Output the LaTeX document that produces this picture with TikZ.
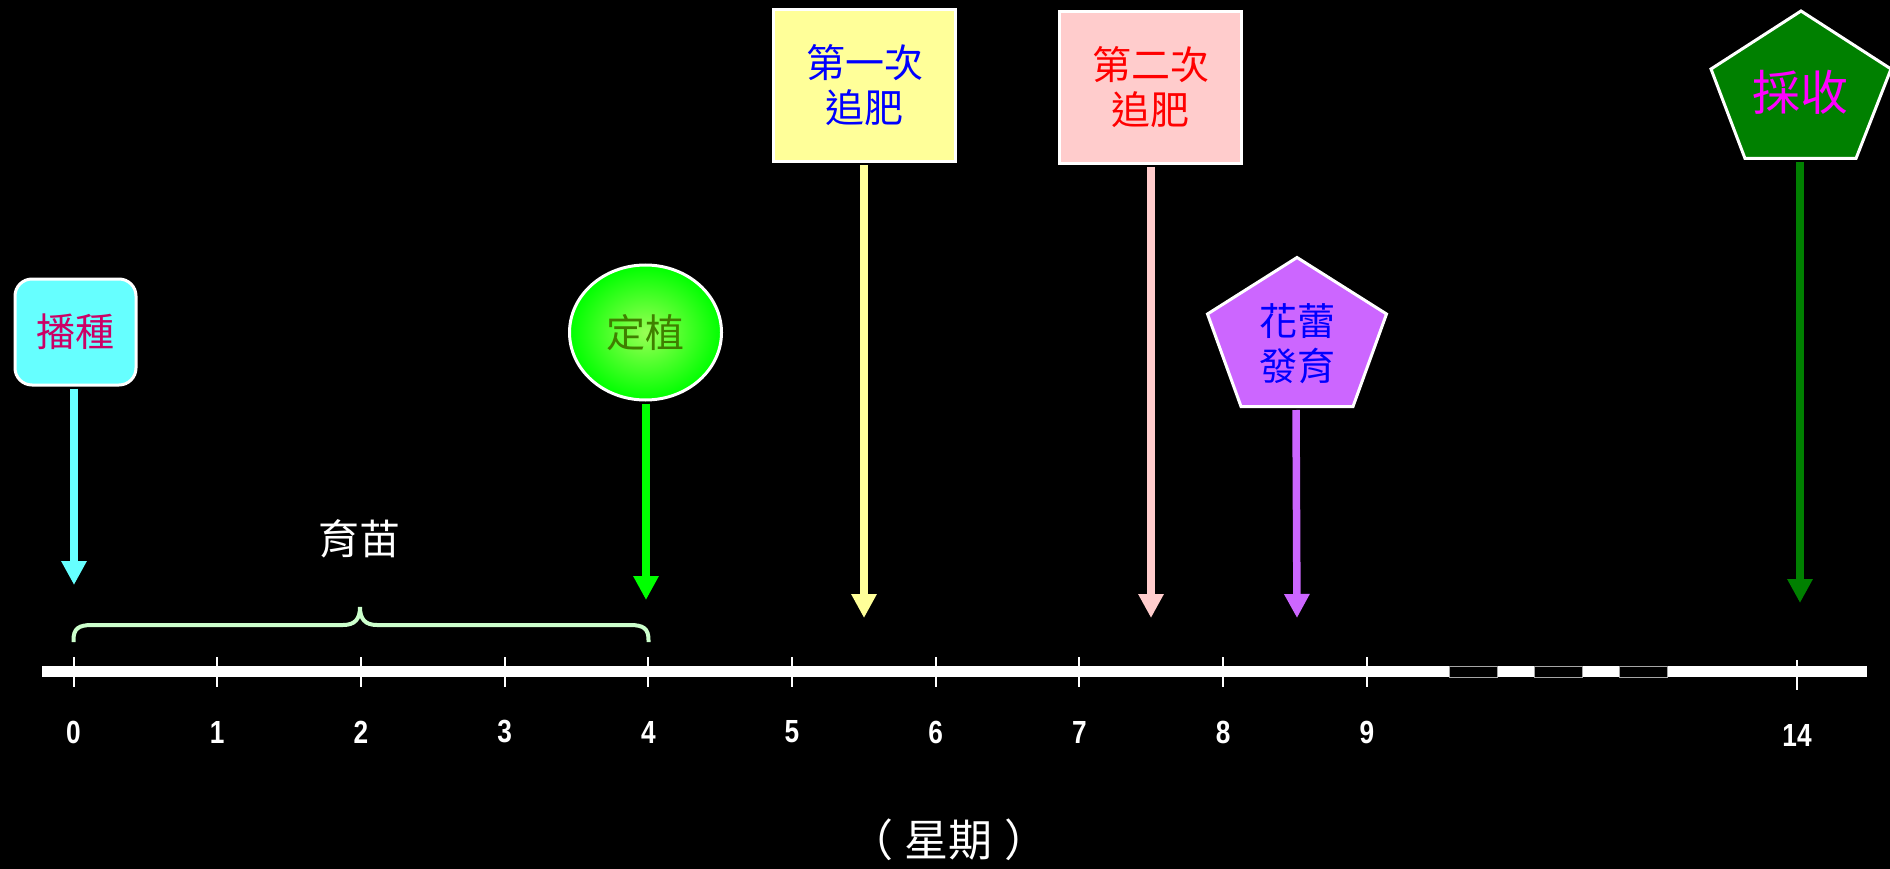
\documentclass[tikz,border=0pt]{standalone}
\usepackage{fontspec}
\setmainfont{Liberation Sans}
\newfontfamily\cjk{Noto Sans CJK TC}
\newfontfamily\narrownum[FakeStretch=0.82]{Liberation Sans Bold}
\usetikzlibrary{arrows.meta,shapes.geometric}
\definecolor{cyanfill}{HTML}{66FFFF}
\definecolor{sowtext}{HTML}{CC0066}
\definecolor{limegreen}{HTML}{00FF00}
\definecolor{limelight}{HTML}{99FF55}
\definecolor{planttext}{HTML}{3F7F00}
\definecolor{yellowfill}{HTML}{FFFF99}
\definecolor{pinkfill}{HTML}{FFCCCC}
\definecolor{purplefill}{HTML}{CC66FF}
\definecolor{darkgreen}{HTML}{008000}
\definecolor{bracegreen}{HTML}{CCFFCC}
\definecolor{puremagenta}{HTML}{FF00FF}
\definecolor{pureblue}{HTML}{0000FF}
\definecolor{purered}{HTML}{FF0000}
\begin{document}
\begin{tikzpicture}[x=1pt,y=-1pt,
  cjktext/.style={font=\cjk\fontsize{39}{45}\selectfont, align=center, inner sep=0pt},
  sign/.style={line width=3pt, draw=white, inner sep=0pt, align=center, font=\cjk\fontsize{39}{45}\selectfont},
  stem/.style={line width=7.5pt, -{Triangle[length=24pt,width=24pt]}, shorten <=2pt},
  numlabel/.style={text=white, font=\narrownum\fontsize{32}{34}\selectfont, inner sep=0pt},
  tickmark/.style={white, line width=2pt},
  gapbox/.style={fill=black, draw=gray!70, line width=0.8pt}]
\fill[black] (0,0) rectangle (1890,869);
\useasboundingbox (0,0) rectangle (1890,869);

% time axis
\fill[white] (42,666) rectangle (1867,677);
\filldraw[gapbox] (1449,666) rectangle (1497,677);
\filldraw[gapbox] (1534,666) rectangle (1582,677);
\filldraw[gapbox] (1619,666) rectangle (1667,677);
\foreach \w in {0,...,9} {
  \draw[tickmark] ({73.5+143.7*\w},657) -- ++(0,30);
  \node[numlabel] (n\w) at ({73.5+143.7*\w},732) {\w};
}
\draw[tickmark] (1797,660) -- ++(0,30);
\node[numlabel] (n14) at (1797,735) {14};

% brace
\coordinate (bl) at (73.5,642);
\coordinate (bm) at (360,607);
\coordinate (br) at (648.5,642);
\draw[bracegreen, line width=4pt]
  (bl) -- (73.5,640) .. controls (73.5,629) and (78,625) .. (92,625) -- (343,625)
  .. controls (355,625) and (360,619) .. (bm)
  .. controls (360,619) and (365,625) .. (377,625) -- (630,625)
  .. controls (644,625) and (648.5,629) .. (648.5,640) -- (br);
\node[cjktext, text=white, font=\cjk\fontsize{41}{45}\selectfont] (seedling) at (359,539) {育苗};
\node[cjktext, text=white, font=\cjk\fontsize{44}{48}\selectfont] (weeks) at (949,840) {（\hspace{12pt}星期\hspace{12pt}）};

% 播種
\node[sign, rounded corners=17pt, fill=cyanfill, text=sowtext,
  minimum width=121pt, minimum height=106pt] (sow) at (75.5,332) {播種};
\coordinate (tip0) at (74,585);
\draw[stem, cyanfill] (sow.south -| tip0) -- (tip0);

% 定植
\node[sign, ellipse, inner color=limelight, outer color=limegreen, text=planttext,
  minimum width=152pt, minimum height=135pt] (plant) at (645.5,332.5) {定植};
\coordinate (tip1) at (646,600);
\draw[stem, limegreen] (plant.south -| tip1) -- (tip1);

% 第一次追肥
\node[sign, fill=yellowfill, text=pureblue,
  minimum width=182pt, minimum height=152pt] (fert1) at (864.5,85.5) {第一次\\追肥};
\coordinate (tip2) at (864,618);
\draw[stem, yellowfill] (fert1.south -| tip2) -- (tip2);

% 第二次追肥
\node[sign, fill=pinkfill, text=purered,
  minimum width=182pt, minimum height=152pt] (fert2) at (1150.5,87.5) {第二次\\追肥};
\coordinate (tip3) at (1151,618);
\draw[stem, pinkfill] (fert2.south -| tip3) -- (tip3);

% 花蕾發育
\filldraw[fill=purplefill, draw=white, line width=3pt]
  (1297,257.5) -- (1207.5,314) -- (1241,406.5) -- (1353,406.5) -- (1386.5,314) -- cycle;
\node[cjktext, text=pureblue, font=\cjk\fontsize{38}{45}\selectfont] (bud) at (1297,344) {花蕾\\發育};
\coordinate (budbase) at (1296,408);
\coordinate (tip4) at (1297,618);
\draw[stem, purplefill] (budbase) -- (tip4);

% 採收
\filldraw[fill=darkgreen, draw=white, line width=3pt]
  (1801,11) -- (1711,69) -- (1745,158.5) -- (1856,158.5) -- (1891,69) -- cycle;
\node[cjktext, text=puremagenta, font=\cjk\fontsize{48}{50}\selectfont] (harvest) at (1800,92) {採收};
\coordinate (harvestbase) at (1800,160);
\coordinate (tip5) at (1800,603);
\draw[stem, darkgreen] (harvestbase) -- (tip5);
\end{tikzpicture}
\end{document}
